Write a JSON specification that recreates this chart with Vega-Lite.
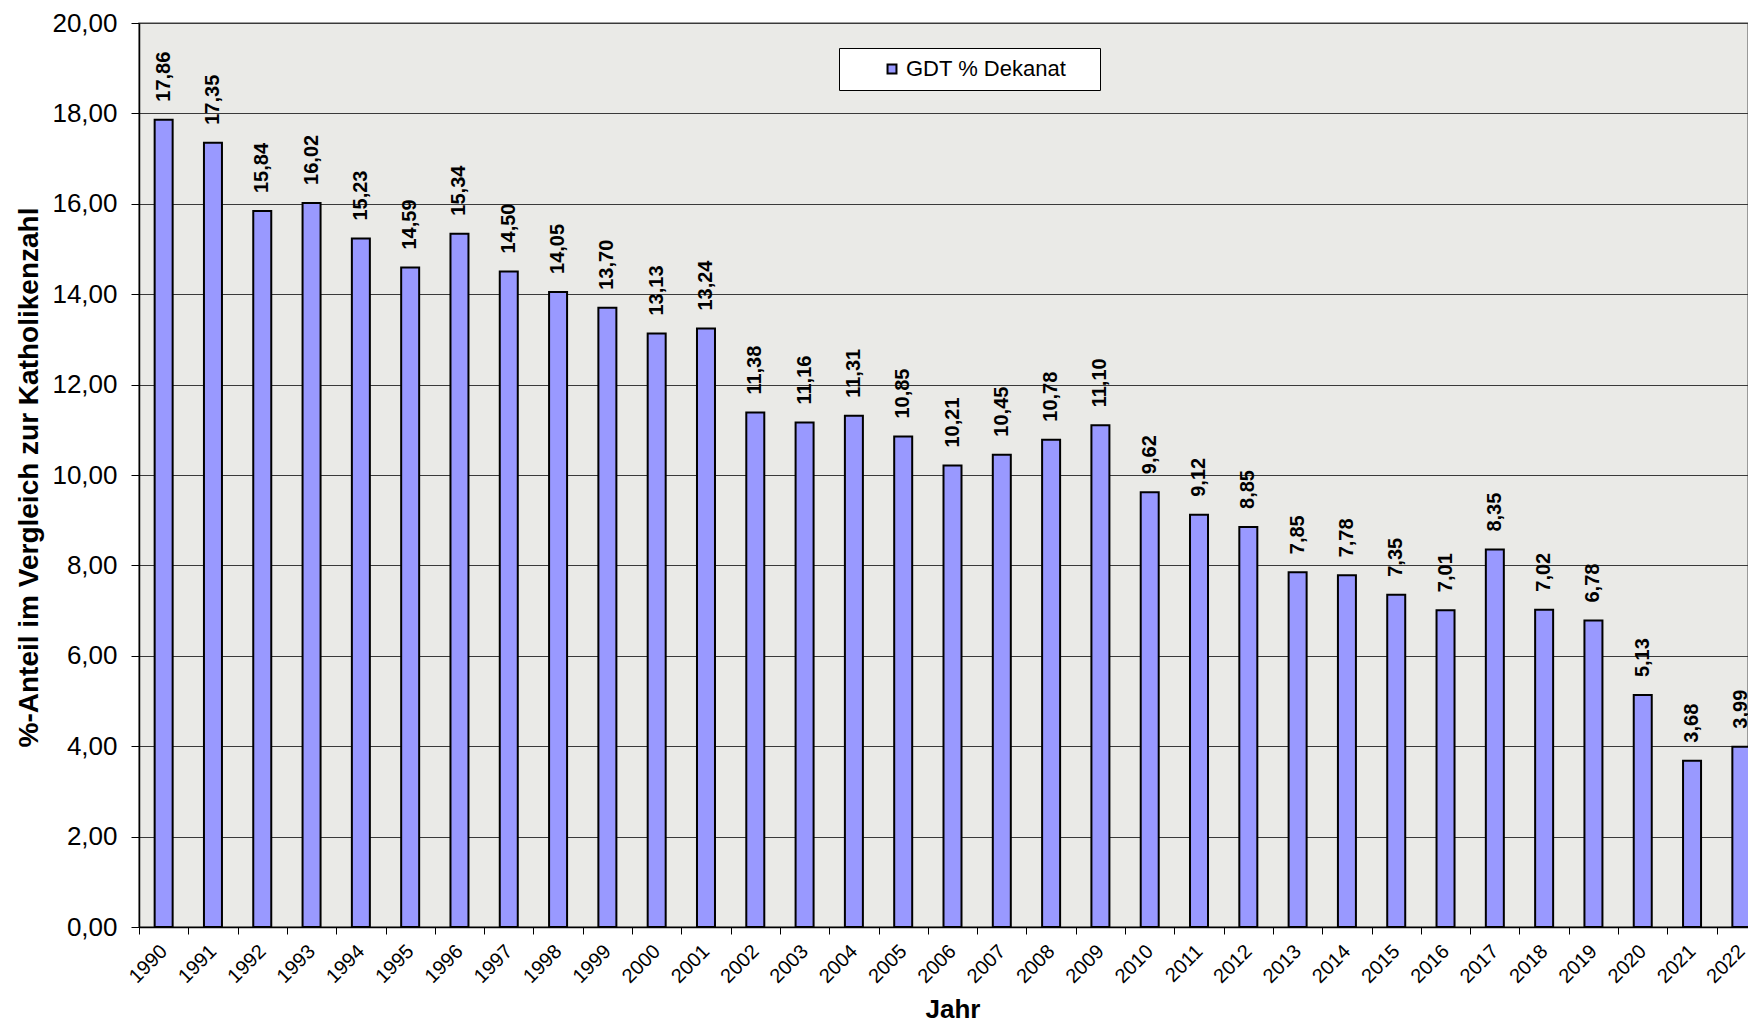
{
  "$schema": "https://vega.github.io/schema/vega-lite/v6.json",
  "autosize": {"type": "none"},
  "width": 1609,
  "height": 904,
  "padding": {"left": 139, "top": 23, "right": 0, "bottom": 96},
  "background": "white",
  "config": {
    "font": "Liberation Sans",
    "locale": {"number": {"decimal": ",", "thousands": ".", "grouping": [3], "currency": ["", " €"]}},
    "view": {"fill": "#eaeae7", "stroke": "#808080", "strokeWidth": 1.5}
  },
  "data": {
    "values": [
      {"Jahr": "1990", "Wert": 17.86},
      {"Jahr": "1991", "Wert": 17.35},
      {"Jahr": "1992", "Wert": 15.84},
      {"Jahr": "1993", "Wert": 16.02},
      {"Jahr": "1994", "Wert": 15.23},
      {"Jahr": "1995", "Wert": 14.59},
      {"Jahr": "1996", "Wert": 15.34},
      {"Jahr": "1997", "Wert": 14.50},
      {"Jahr": "1998", "Wert": 14.05},
      {"Jahr": "1999", "Wert": 13.70},
      {"Jahr": "2000", "Wert": 13.13},
      {"Jahr": "2001", "Wert": 13.24},
      {"Jahr": "2002", "Wert": 11.38},
      {"Jahr": "2003", "Wert": 11.16},
      {"Jahr": "2004", "Wert": 11.31},
      {"Jahr": "2005", "Wert": 10.85},
      {"Jahr": "2006", "Wert": 10.21},
      {"Jahr": "2007", "Wert": 10.45},
      {"Jahr": "2008", "Wert": 10.78},
      {"Jahr": "2009", "Wert": 11.10},
      {"Jahr": "2010", "Wert": 9.62},
      {"Jahr": "2011", "Wert": 9.12},
      {"Jahr": "2012", "Wert": 8.85},
      {"Jahr": "2013", "Wert": 7.85},
      {"Jahr": "2014", "Wert": 7.78},
      {"Jahr": "2015", "Wert": 7.35},
      {"Jahr": "2016", "Wert": 7.01},
      {"Jahr": "2017", "Wert": 8.35},
      {"Jahr": "2018", "Wert": 7.02},
      {"Jahr": "2019", "Wert": 6.78},
      {"Jahr": "2020", "Wert": 5.13},
      {"Jahr": "2021", "Wert": 3.68},
      {"Jahr": "2022", "Wert": 3.99}
    ]
  },
  "encoding": {
    "x": {
      "field": "Jahr",
      "type": "ordinal",
      "scale": {"type": "band", "range": [0, 1627], "paddingInner": 0, "paddingOuter": 0},
      "axis": {
        "title": "Jahr",
        "titleFontSize": 26,
        "titleFontWeight": "bold",
        "titleColor": "black",
        "titleY": 82,
        "titleBaseline": "middle",
        "labelAngle": -45,
        "labelAlign": "right",
        "labelBaseline": "middle",
        "labelFontSize": 20,
        "labelColor": "black",
        "labelPadding": 14,
        "tickBand": "extent",
        "tickSize": 7,
        "tickColor": "black",
        "tickWidth": 1,
        "domainColor": "black",
        "domainWidth": 1.5,
        "grid": false
      }
    },
    "y": {
      "field": "Wert",
      "type": "quantitative",
      "scale": {"domain": [0, 20], "nice": false},
      "axis": {
        "title": "%-Anteil im Vergleich zur Katholikenzahl",
        "titleFontSize": 28,
        "titleFontWeight": "bold",
        "titleColor": "black",
        "titleX": -110,
        "titleY": 454,
        "titleBaseline": "middle",
        "titleAngle": -90,
        "values": [0, 2, 4, 6, 8, 10, 12, 14, 16, 18, 20],
        "format": ".2f",
        "labelFontSize": 26,
        "labelColor": "black",
        "labelPadding": 14,
        "tickSize": 8,
        "tickColor": "black",
        "domainColor": "black",
        "domainWidth": 1.5,
        "grid": true,
        "gridColor": "#3a3a3a",
        "gridWidth": 1
      }
    }
  },
  "layer": [
    {
      "mark": {"type": "bar", "size": 18, "stroke": "black", "strokeWidth": 2, "clip": true},
      "encoding": {
        "color": {
          "datum": "GDT % Dekanat",
          "type": "nominal",
          "scale": {"domain": ["GDT % Dekanat"], "range": ["#9999ff"]},
          "legend": {
            "title": "\u2800\u2800",
            "titleOrient": "right",
            "titleFontSize": 16,
            "titlePadding": 0,
            "orient": "none",
            "legendX": 700,
            "legendY": 25,
            "direction": "vertical",
            "fillColor": "white",
            "strokeColor": "black",
            "padding": 10,
            "symbolType": "square",
            "symbolSize": 80,
            "symbolStrokeColor": "black",
            "symbolStrokeWidth": 2,
            "symbolOffset": 32,
            "labelOffset": 3,
            "labelFontSize": 22,
            "labelLimit": 500,
            "labelColor": "black"
          }
        }
      }
    },
    {
      "mark": {
        "type": "text",
        "angle": -90,
        "align": "left",
        "baseline": "middle",
        "dx": 18,
        "fontSize": 20,
        "fontWeight": "bold",
        "color": "black"
      },
      "encoding": {
        "text": {"field": "Wert", "type": "quantitative", "format": ".2f"}
      }
    }
  ]
}
